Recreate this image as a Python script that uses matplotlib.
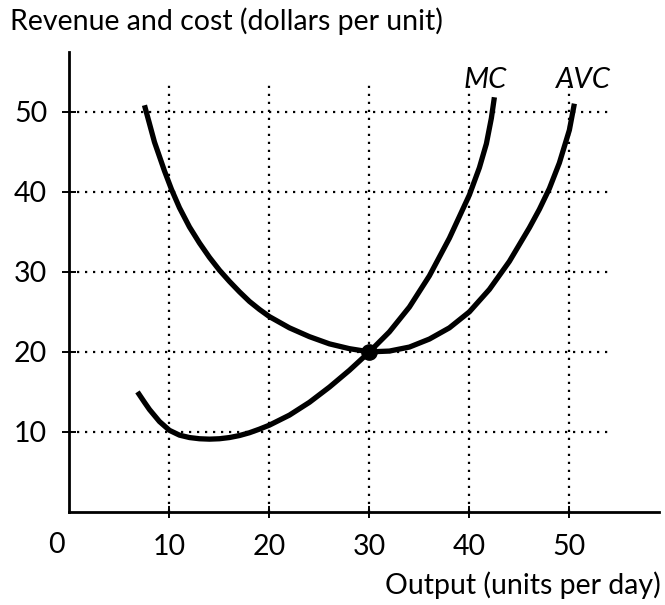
import matplotlib

matplotlib.use("Agg")
import matplotlib.pyplot as plt

# curves (output, dollars per unit)
mc_x = [6.8, 7.5, 8, 9, 10, 11, 12, 13, 14, 15, 16, 17, 18, 19, 20, 22, 24, 26,
        28, 30, 32, 34, 36, 38, 40, 41, 41.7, 42.2, 42.5]
mc_y = [15, 13.7, 12.8, 11.3, 10.2, 9.6, 9.3, 9.15, 9.1, 9.15, 9.3, 9.55, 9.9,
        10.35, 10.85, 12.1, 13.7, 15.6, 17.7, 20, 22.5, 25.6, 29.5, 34.2, 39.6,
        43, 46, 49.2, 51.8]
avc_x = [7.5, 8.5, 9.5, 10.2, 11, 12, 13, 14, 15, 16, 17, 18, 19, 20, 22, 24,
         26, 28, 30, 32, 34, 36, 38, 40, 42, 44, 46, 47, 48, 49, 50, 50.5]
avc_y = [50.8, 46.2, 42.6, 40.3, 38, 35.6, 33.6, 31.8, 30.2, 28.8, 27.5, 26.3,
         25.3, 24.4, 23, 21.9, 21, 20.4, 20, 20.1, 20.6, 21.6, 23, 25, 27.8,
         31.3, 35.5, 37.8, 40.4, 43.6, 47.7, 51]
point = (30, 20)

x_ticks = [10, 20, 30, 40, 50]
y_ticks = [10, 20, 30, 40, 50]

FONT = "Lato"
SIZE = 20.5

fig = plt.figure(figsize=(6.65, 6.05), dpi=100)
ax = fig.add_axes([0.1045, 0.1537, 0.887, 0.761])
ax.set_xlim(0, 59)
ax.set_ylim(0, 57.5)

# dotted guide lines
ax.vlines(x_ticks, 0, 53.5, colors="black", linestyles=(0, (1, 2.6)), linewidth=1.6)
ax.hlines(y_ticks, 0, 54.2, colors="black", linestyles=(0, (1, 2.6)), linewidth=1.6)

ax.plot(mc_x, mc_y, color="black", linewidth=3.8, solid_capstyle="butt",
        solid_joinstyle="round", zorder=3)
ax.plot(avc_x, avc_y, color="black", linewidth=3.8, solid_capstyle="butt",
        solid_joinstyle="round", zorder=3)
ax.plot(*point, "o", color="black", markersize=11, zorder=4)

ax.text(41.6, 54, "MC", fontsize=21, style="italic", family=FONT,
        ha="center", va="center")
ax.text(51.4, 54, "AVC", fontsize=21, style="italic", family=FONT,
        ha="center", va="center")

for side in ("top", "right"):
    ax.spines[side].set_visible(False)
for side in ("left", "bottom"):
    ax.spines[side].set_linewidth(2)

ax.set_xticks(x_ticks)
ax.set_yticks(y_ticks)
ax.set_xticklabels([str(v) for v in x_ticks], family=FONT, fontsize=SIZE)
ax.set_yticklabels([str(v) for v in y_ticks], family=FONT, fontsize=SIZE)
ax.tick_params(axis="x", direction="inout", length=9, width=1.4, pad=11)
ax.tick_params(axis="y", direction="inout", length=10, width=1.4, pad=11)

ax.text(-1.3, -4.1, "0", family=FONT, fontsize=SIZE, ha="center", va="center")

fig.text(0.015, 0.965, "Revenue and cost (dollars per unit)", family=FONT,
         fontsize=SIZE, ha="left", va="center")
fig.text(0.993, 0.033, "Output (units per day)", family=FONT, fontsize=SIZE,
         ha="right", va="center")

fig.savefig("out.png", dpi=100)
